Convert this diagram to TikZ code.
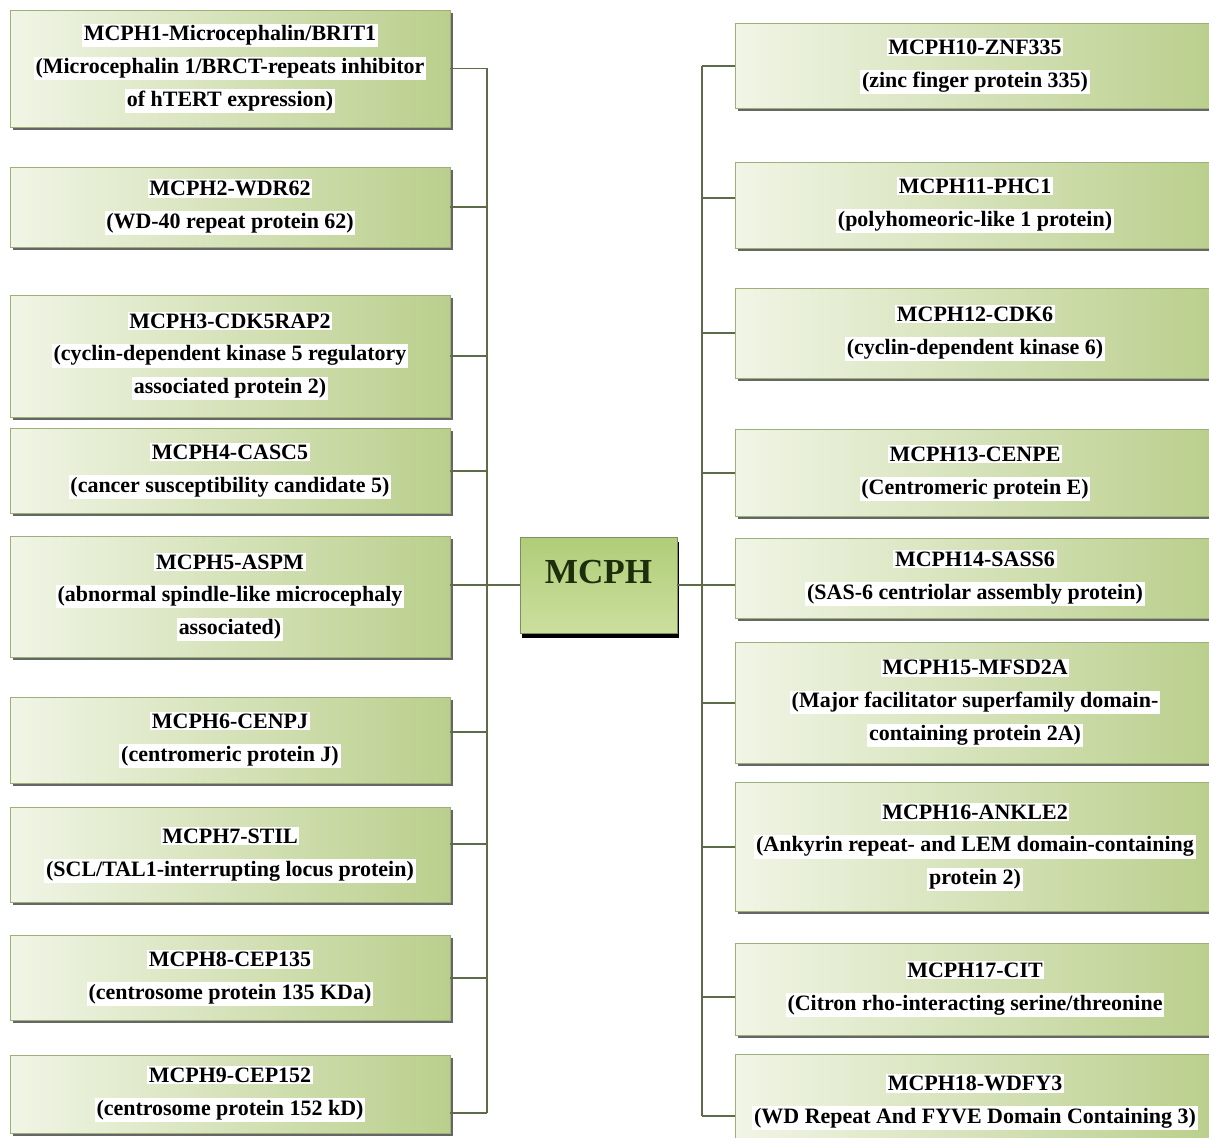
\documentclass[tikz,border=0pt]{standalone}
\usepackage{fontspec}
\setmainfont{Liberation Serif}
\usetikzlibrary{shadows}
\usepackage{xcolor}
\definecolor{boxlight}{HTML}{F1F5E6}
\definecolor{boxgreen}{HTML}{BACF8C}
\definecolor{boxedge}{HTML}{9DB07A}
\definecolor{hubtop}{HTML}{B0CD78}
\definecolor{hubmid}{HTML}{A0C25F}
\definecolor{hubbottom}{HTML}{CBDF9E}
\definecolor{linkcol}{HTML}{5E6B48}
\definecolor{hubtext}{HTML}{1C2E0C}
\newcommand{\lbl}[1]{{\setlength{\fboxsep}{1pt}\colorbox{white}{#1}}}

\begin{document}
\begin{tikzpicture}[x=0.02cm, y=-0.02cm,
      gene/.style={draw=boxedge, line width=0.4pt, left color=boxlight, right color=boxgreen,
                   minimum width=8.8cm, inner sep=0pt, align=center, text=black,
                   font=\fontsize{12.5}{18.7}\selectfont\bfseries,
                   drop shadow={shadow xshift=1.6pt, shadow yshift=-1.6pt, fill=black!60, opacity=1}},
      geneR/.style={gene, minimum width=9.6cm},
      hub/.style={draw=boxedge!80!black, line width=0.4pt, top color=hubtop, middle color=hubmid,
                  bottom color=hubbottom,
                  minimum width=3.14cm, minimum height=1.92cm, inner sep=0pt, text=hubtext,
                  font=\fontsize{20}{24}\selectfont\bfseries, text height=0.46cm, text depth=0.54cm,
                  drop shadow={shadow xshift=1pt, shadow yshift=-2.8pt, fill=black, opacity=1}},
      link/.style={draw=linkcol, line width=1.1pt}
    ]
      \useasboundingbox (0,0) rectangle (1209,1138);
      \clip (0,0) rectangle (1209,1138);
      \fill[white] (0,0) rectangle (1209,1138);

      % spines
      \coordinate (spineL) at (487,0);
      \coordinate (spineR) at (702,0);

      % left column
      \node[gene, minimum height=2.34cm] (m1) at (230,68.5) {
        \lbl{MCPH1-Microcephalin/BRIT1}\\\lbl{(Microcephalin 1/BRCT-repeats inhibitor}\\\lbl{of hTERT expression)}};
      \node[gene, minimum height=1.6cm] (m2) at (230,207) {
        \lbl{MCPH2-WDR62}\\\lbl{(WD-40 repeat protein 62)}};
      \node[gene, minimum height=2.44cm] (m3) at (230,356) {
        \lbl{MCPH3-CDK5RAP2}\\\lbl{(cyclin-dependent kinase 5 regulatory}\\\lbl{associated protein 2)}};
      \node[gene, minimum height=1.7cm] (m4) at (230,471) {
        \lbl{MCPH4-CASC5}\\\lbl{(cancer susceptibility candidate 5)}};
      \node[gene, minimum height=2.42cm] (m5) at (230,597) {
        \lbl{MCPH5-ASPM}\\\lbl{(abnormal spindle-like microcephaly}\\\lbl{associated)}};
      \node[gene, minimum height=1.72cm] (m6) at (230,740) {
        \lbl{MCPH6-CENPJ}\\\lbl{(centromeric protein J)}};
      \node[gene, minimum height=1.9cm] (m7) at (230,855) {
        \lbl{MCPH7-STIL}\\\lbl{(SCL/TAL1-interrupting locus protein)}};
      \node[gene, minimum height=1.7cm] (m8) at (230,978) {
        \lbl{MCPH8-CEP135}\\\lbl{(centrosome protein 135 KDa)}};
      \node[gene, minimum height=1.56cm] (m9) at (230,1094) {
        \lbl{MCPH9-CEP152}\\\lbl{(centrosome protein 152 kD)}};

      % hub
      \node[hub] (mcph) at (598.5,585) {MCPH};

      % right column
      \node[geneR, minimum height=1.7cm] (m10) at (975,66) {
        \lbl{MCPH10-ZNF335}\\\lbl{(zinc finger protein 335)}};
      \node[geneR, minimum height=1.72cm] (m11) at (975,205) {
        \lbl{MCPH11-PHC1}\\\lbl{(polyhomeoric-like 1 protein)}};
      \node[geneR, minimum height=1.8cm] (m12) at (975,333) {
        \lbl{MCPH12-CDK6}\\\lbl{(cyclin-dependent kinase 6)}};
      \node[geneR, minimum height=1.74cm] (m13) at (975,473) {
        \lbl{MCPH13-CENPE}\\\lbl{(Centromeric protein E)}};
      \node[geneR, minimum height=1.6cm] (m14) at (975,578) {
        \lbl{MCPH14-SASS6}\\\lbl{(SAS-6 centriolar assembly protein)}};
      \node[geneR, minimum height=2.42cm] (m15) at (975,703) {
        \lbl{MCPH15-MFSD2A}\\\lbl{(Major facilitator superfamily domain-}\\\lbl{containing protein 2A)}};
      \node[geneR, minimum height=2.58cm] (m16) at (975,847) {
        \lbl{MCPH16-ANKLE2}\\\lbl{(Ankyrin repeat- and LEM domain-containing}\\\lbl{protein 2)}};
      \node[geneR, minimum height=1.84cm] (m17) at (975,989) {
        \lbl{MCPH17-CIT}\\\lbl{(Citron rho-interacting serine/threonine}};
      \node[geneR, minimum height=1.9cm] (m18) at (975,1102) {
        \lbl{MCPH18-WDFY3}\\\lbl{(WD Repeat And FYVE Domain Containing 3)}};

      % feet of the branches that sit off centre
      \coordinate (f6) at ([yshift=0.16cm]m6.east);
      \coordinate (f7) at ([yshift=0.22cm]m7.east);
      \coordinate (f9) at ([yshift=-0.38cm]m9.east);
      \coordinate (f11) at ([yshift=0.14cm]m11.west);
      \coordinate (f17) at ([yshift=-0.16cm]m17.west);
      \coordinate (f18) at ([yshift=-0.28cm]m18.west);

      % left tree
      \draw[link] (m1.east -| spineL) -- (f9 -| spineL);
      \draw[link] (m1.east) -- (m1.east -| spineL);
      \draw[link] (m2.east) -- (m2.east -| spineL);
      \draw[link] (m3.east) -- (m3.east -| spineL);
      \draw[link] (m4.east) -- (m4.east -| spineL);
      \draw[link] (f6) -- (f6 -| spineL);
      \draw[link] (f7) -- (f7 -| spineL);
      \draw[link] (m8.east) -- (m8.east -| spineL);
      \draw[link] (f9) -- (f9 -| spineL);
      \draw[link] (m5.east |- mcph.west) -- (mcph.west);

      % right tree
      \draw[link] (m10.west -| spineR) -- (f18 -| spineR);
      \draw[link] (m10.west) -- (m10.west -| spineR);
      \draw[link] (f11) -- (f11 -| spineR);
      \draw[link] (m12.west) -- (m12.west -| spineR);
      \draw[link] (m13.west) -- (m13.west -| spineR);
      \draw[link] (m15.west) -- (m15.west -| spineR);
      \draw[link] (m16.west) -- (m16.west -| spineR);
      \draw[link] (f17) -- (f17 -| spineR);
      \draw[link] (f18) -- (f18 -| spineR);
      \draw[link] (mcph.east) -- (m14.west |- mcph.east);
    \end{tikzpicture}
\end{document}
